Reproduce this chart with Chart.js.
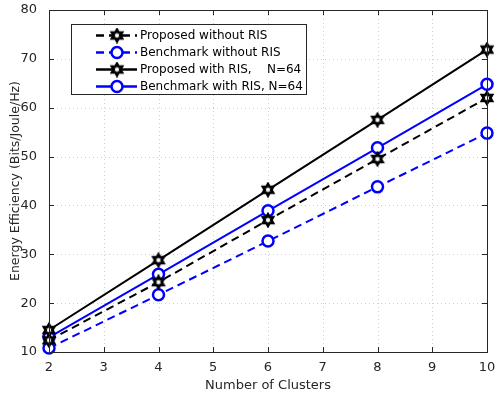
<!DOCTYPE html>
<html>
<head>
<meta charset="utf-8">
<script src="https://cdn.jsdelivr.net/npm/chart.js@4"></script>
<style>
  html, body { margin: 0; padding: 0; background: #fff; }
  #wrap { width: 496px; height: 394px; }
</style>
</head>
<body>
<div id="wrap"><canvas id="c" width="496" height="394"></canvas></div>
<script>
// Number of clusters on the x axis
const clusters = [2, 4, 6, 8, 10];

// Energy efficiency (Bits/Joule/Hz) per scheme
const proposedNoRIS   = [12.4, 24.3, 37.0, 49.5, 62.0];
const benchmarkNoRIS  = [10.8, 21.7, 32.7, 43.8, 54.8];
const proposedRIS     = [14.5, 28.8, 43.2, 57.5, 71.9];
const benchmarkRIS    = [13.0, 25.9, 38.9, 51.8, 64.8];

const seriesNames = [
  'Proposed without RIS',
  'Benchmark without RIS',
  'Proposed with RIS,    N=64',
  'Benchmark with RIS, N=64'
];

const yTicks = [10, 20, 30, 40, 50, 60, 70, 80];
const xTicks = [2, 3, 4, 5, 6, 7, 8, 9, 10];

const FONT = 'DejaVu Sans';
const BLUE = '#0000ff';
const BLACK = '#000000';
const DASH = [8, 5];

// Six-pointed star marker (two overlapping triangles)
function makeHexagram() {
  const s = 16, c = s / 2;
  const cv = document.createElement('canvas');
  cv.width = s; cv.height = s;
  const g = cv.getContext('2d');
  const R = 5.6, r = R / Math.sqrt(3);
  g.beginPath();
  for (let i = 0; i < 12; i++) {
    const a = -Math.PI / 2 + i * Math.PI / 6;
    const rad = i % 2 === 0 ? R : r;
    const px = c + rad * Math.cos(a), py = c + rad * Math.sin(a);
    if (i === 0) g.moveTo(px, py); else g.lineTo(px, py);
  }
  g.closePath();
  g.fillStyle = '#fff';
  g.fill();
  g.lineWidth = 2.8;
  g.lineJoin = 'miter';
  g.strokeStyle = '#000';
  g.stroke();
  return cv;
}
const hexMarker = makeHexagram();

function ds(label, data, color, dashed, star) {
  return {
    label,
    data: clusters.map((x, i) => ({ x, y: data[i] })),
    borderColor: color,
    backgroundColor: '#fff',
    borderWidth: 2,
    borderDash: dashed ? DASH : [],
    pointStyle: star ? hexMarker : 'circle',
    pointRadius: star ? 6 : 5.5,
    pointBorderWidth: 2.5,
    pointBorderColor: color,
    pointBackgroundColor: '#fff',
    tension: 0,
    clip: false
  };
}

const datasets = [
  ds(seriesNames[0], proposedNoRIS, BLACK, true, true),
  ds(seriesNames[1], benchmarkNoRIS, BLUE, true, false),
  ds(seriesNames[2], proposedRIS, BLACK, false, true),
  ds(seriesNames[3], benchmarkRIS, BLUE, false, false)
];

// Dotted grid behind the series
const gridPlugin = {
  id: 'dottedGrid',
  beforeDatasetsDraw(chart) {
    const { ctx, chartArea: a, scales } = chart;
    ctx.save();
    ctx.strokeStyle = '#cfcfcf';
    ctx.lineWidth = 1;
    ctx.setLineDash([1, 3]);
    ctx.beginPath();
    xTicks.forEach(v => {
      const px = Math.round(scales.x.getPixelForValue(v)) + 0.5;
      ctx.moveTo(px, a.bottom); ctx.lineTo(px, a.top);
    });
    yTicks.forEach(v => {
      const py = Math.round(scales.y.getPixelForValue(v)) + 0.5;
      ctx.moveTo(a.left, py); ctx.lineTo(a.right, py);
    });
    ctx.stroke();
    ctx.restore();
  }
};

// Box frame, inward tick marks and the in-plot legend
const framePlugin = {
  id: 'frame',
  afterDatasetsDraw(chart) {
    const { ctx, chartArea: a, scales } = chart;
    ctx.save();
    ctx.strokeStyle = '#262626';
    ctx.lineWidth = 1;
    ctx.strokeRect(Math.round(a.left) + 0.5, Math.round(a.top) + 0.5,
                   Math.round(a.right - a.left), Math.round(a.bottom - a.top));
    const tl = 5;
    ctx.beginPath();
    xTicks.forEach(v => {
      const px = Math.round(scales.x.getPixelForValue(v)) + 0.5;
      ctx.moveTo(px, a.bottom); ctx.lineTo(px, a.bottom - tl);
      ctx.moveTo(px, a.top); ctx.lineTo(px, a.top + tl);
    });
    yTicks.forEach(v => {
      const py = Math.round(scales.y.getPixelForValue(v)) + 0.5;
      ctx.moveTo(a.left, py); ctx.lineTo(a.left + tl, py);
      ctx.moveTo(a.right, py); ctx.lineTo(a.right - tl, py);
    });
    ctx.stroke();
    ctx.restore();
  },
  afterDraw(chart) {
    const { ctx } = chart;
    ctx.save();
    const bx = 71.5, by = 24.5, bw = 235, bh = 70;
    ctx.fillStyle = '#fff';
    ctx.fillRect(bx, by, bw, bh);
    ctx.strokeStyle = '#262626';
    ctx.lineWidth = 1;
    ctx.strokeRect(bx, by, bw, bh);
    const rows = [35.5, 52.5, 69.5, 86.5];
    chart.data.datasets.forEach((d, i) => {
      const y = rows[i];
      ctx.save();
      ctx.strokeStyle = d.borderColor;
      ctx.lineWidth = d.borderWidth + 0.5;
      ctx.setLineDash(d.borderDash);
      ctx.beginPath();
      ctx.moveTo(96, y); ctx.lineTo(137, y);
      ctx.stroke();
      ctx.restore();
      const mx = 117;
      if (d.pointStyle === 'circle') {
        ctx.beginPath();
        ctx.arc(mx, y, 5.5, 0, Math.PI * 2);
        ctx.fillStyle = '#fff';
        ctx.fill();
        ctx.lineWidth = 2.5;
        ctx.strokeStyle = d.borderColor;
        ctx.stroke();
      } else {
        ctx.drawImage(hexMarker, mx - 8, y - 8);
      }
      ctx.fillStyle = '#000';
      ctx.font = '12px "' + FONT + '"';
      ctx.textBaseline = 'middle';
      ctx.textAlign = 'left';
      ctx.fillText(d.label, 140, y);
    });
    ctx.restore();
  }
};

new Chart(document.getElementById('c'), {
  type: 'line',
  data: { datasets },
  options: {
    responsive: false,
    animation: false,
    events: [],
    layout: { padding: { top: 10, right: 9, left: 0, bottom: 0 } },
    plugins: { legend: { display: false }, tooltip: { enabled: false } },
    scales: {
      x: {
        type: 'linear',
        min: 2, max: 10,
        afterBuildTicks(s) { s.ticks = xTicks.map(v => ({ value: v })); },
        afterFit(s) { s.height = 42; s.paddingLeft = 0; s.paddingRight = 0; },
        grid: { display: false, drawTicks: false },
        border: { display: false },
        ticks: {
          color: '#262626', padding: 8,
          font: { family: FONT, size: 13 },
          maxRotation: 0
        },
        title: {
          display: true, text: 'Number of Clusters', color: '#262626',
          font: { family: FONT, size: 13 }, padding: { top: 0, bottom: 1 }
        }
      },
      y: {
        type: 'linear',
        min: 10, max: 80,
        afterBuildTicks(s) { s.ticks = yTicks.map(v => ({ value: v })); },
        afterFit(s) { s.width = 49; s.paddingTop = 0; s.paddingBottom = 0; },
        grid: { display: false },
        border: { display: false },
        ticks: {
          color: '#262626', padding: 4,
          font: { family: FONT, size: 13 }
        },
        title: {
          display: true, text: 'Energy Efficiency (Bits/Joule/Hz)', color: '#262626',
          font: { family: FONT, size: 12.5 }, padding: { top: 8, bottom: 0 }
        }
      }
    }
  },
  plugins: [gridPlugin, framePlugin]
});
</script>
</body>
</html>
